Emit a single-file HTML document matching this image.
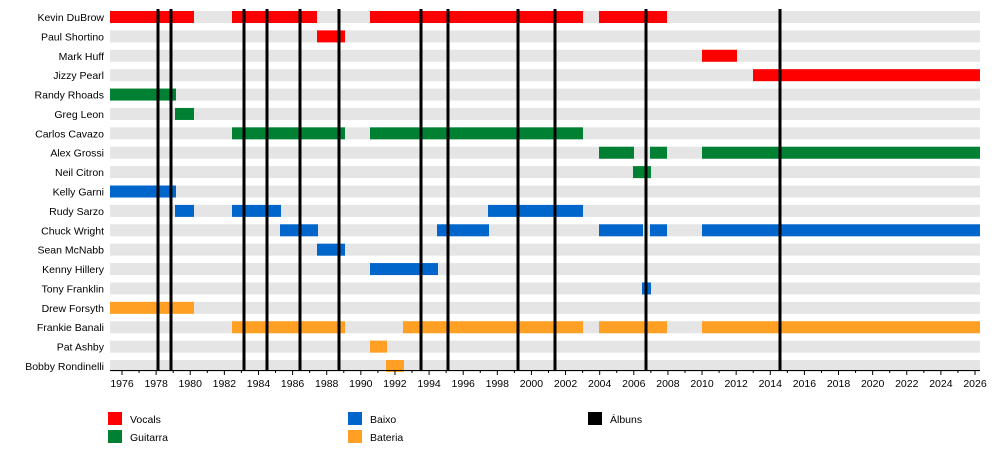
<!DOCTYPE html>
<html><head><meta charset="utf-8"><style>body{margin:0;background:#fff}svg{display:block}text{font-family:"Liberation Sans",sans-serif;font-size:10.5px;fill:#000}</style></head><body>
<svg width="1000" height="470" xmlns="http://www.w3.org/2000/svg" id="s"></svg>
<script>
var s=document.getElementById('s'),h='';
var names=["Kevin DuBrow","Paul Shortino","Mark Huff","Jizzy Pearl","Randy Rhoads","Greg Leon","Carlos Cavazo","Alex Grossi","Neil Citron","Kelly Garni","Rudy Sarzo","Chuck Wright","Sean McNabb","Kenny Hillery","Tony Franklin","Drew Forsyth","Frankie Banali","Pat Ashby","Bobby Rondinelli"];
var R="#ff0000",G="#008033",B="#0066cc",O="#ffa024";
var bars=[[[110,194,R],[232,317,R],[370,583,R],[599,667,R]],[[317,345,R]],[[702,737,R]],[[753,980,R]],[[110,176,G]],[[175,194,G]],[[232,345,G],[370,583,G]],[[599,634,G],[650,667,G],[702,980,G]],[[633,651,G]],[[110,176,B]],[[175,194,B],[232,281,B],[488,583,B]],[[280,318,B],[437,489,B],[599,643,B],[650,667,B],[702,980,B]],[[317,345,B]],[[370,438,B]],[[642,651,B]],[[110,194,O]],[[232,345,O],[403,583,O],[599,667,O],[702,980,O]],[[370,387,O]],[[386,404,O]]];
for(var i=0;i<19;i++){var y=17+i*19.39;
h+='<rect x="110" y="'+(y-6)+'" width="870" height="12" fill="#e5e5e5"/>';
h+='<text x="104" y="'+(y+4)+'" text-anchor="end">'+names[i]+'</text>';
bars[i].forEach(function(b){h+='<rect x="'+b[0]+'" y="'+(y-6)+'" width="'+(b[1]-b[0])+'" height="12" fill="'+b[2]+'"/>';});}
[158,171,244,267,300,339,421,448,518,555,646,780].forEach(function(x){h+='<rect x="'+(x-1.5)+'" y="9" width="3" height="361" fill="#000"/>';});
h+='<line x1="110" y1="370.5" x2="980" y2="370.5" stroke="#000"/>';
for(var yr=1976;yr<=2026;yr++){var x=122+(yr-1976)*17.06;h+='<line x1="'+x+'" y1="370" x2="'+x+'" y2="'+(yr%2==0?375:373)+'" stroke="#000"/>';
if(yr%2==0)h+='<text x="'+x+'" y="387" text-anchor="middle">'+yr+'</text>';}
[[108,412,R,"Vocals"],[108,430,G,"Guitarra"],[348,412,B,"Baixo"],[348,430,O,"Bateria"],[588,412,"#000","Álbuns"]].forEach(function(l){h+='<rect x="'+l[0]+'" y="'+l[1]+'" width="14" height="13" fill="'+l[2]+'"/><text x="'+(l[0]+22)+'" y="'+(l[1]+11)+'">'+l[3]+'</text>';});
s.innerHTML=h;
</script>
</body></html>
